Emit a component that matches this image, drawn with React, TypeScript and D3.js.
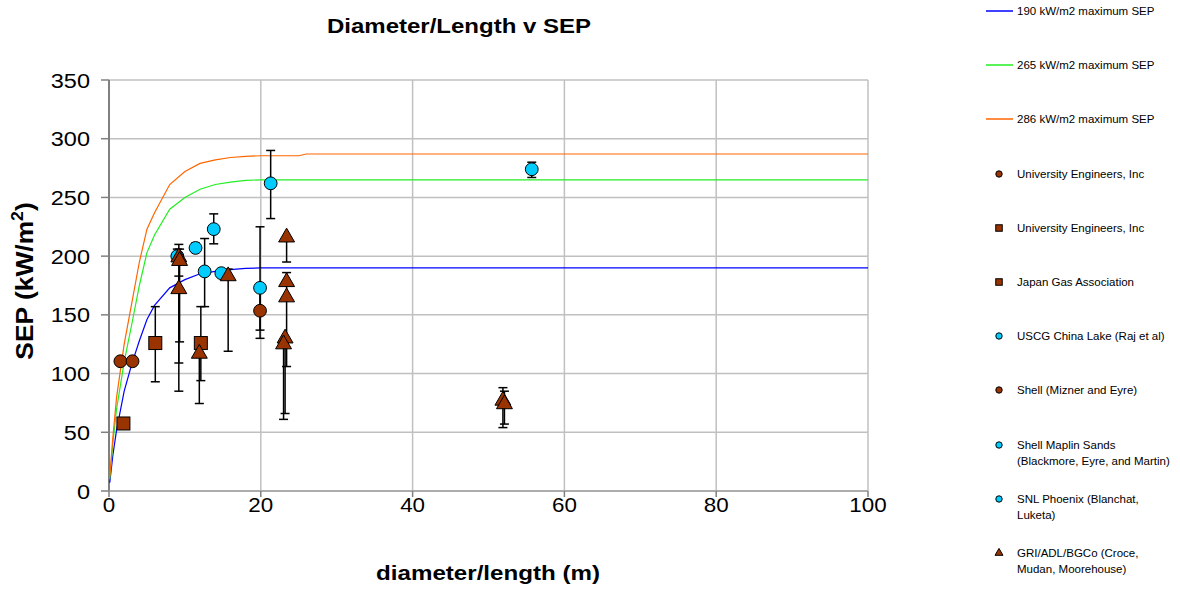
import React from "react";
import * as d3 from "d3";

// ---- Data ----
const curveX = [0.1, 0.5, 1, 2, 3, 4, 5, 6, 8, 10, 12, 14, 16, 18, 20, 25, 26, 100];
const sep190 = [7, 30, 52, 85, 108, 128, 146, 158, 173, 180, 185, 187, 188.5, 189.5, 190, 190, 190, 190];
const sep265 = [10, 40, 70, 110, 142, 175, 203, 218, 240, 250, 257, 261, 263, 264.5, 265, 265, 265, 265];
const sep286 = [12, 45, 80, 125, 160, 195, 223, 237, 261, 272, 279, 282, 284, 285, 285.5, 285.5, 287, 287];

const uniCircleX = [1.5, 3.1];
const uniCircleY = [110.5, 110.5];

const uniSquareX = [1.9];
const uniSquareY = [57.5];

const japanX = [6.1, 12.1];
const japanY = [126, 126];
const japanLo = [93, 94];
const japanHi = [157, 157];

const uscgX = [9.0, 11.4, 13.8];
const uscgY = [200, 207, 223];
const uscgLo = [200, 203.5, 210.5];
const uscgHi = [206, 211, 236];

const shellX = [19.9];
const shellY = [153.5];
const shellLo = [130];
const shellHi = [170];

const maplinX = [12.6, 14.8, 19.9];
const maplinY = [187, 185.5, 173];
const maplinLo = [157, 185.5, 137];
const maplinHi = [215, 185.5, 225];

const snlX = [21.3, 55.7];
const snlY = [262, 274];
const snlLo = [232, 267];
const snlHi = [290, 280];

const griX = [9.2, 9.3, 9.2, 11.9, 15.7, 23.4, 23.4, 23.4, 23.2, 23.0, 51.9, 52.1];
const griY = [199, 196, 172, 117, 183, 216, 178, 165, 130, 125, 77, 74];
const griLo = [85, 127, 109, 74.5, 119, 195, 106, 165, 66, 61, 54, 57];
const griHi = [210, 206, 183, 126, 189, 216, 186, 165, 130, 125, 88, 85];

const xTicks = [0, 20, 40, 60, 80, 100];
const yTicks = [0, 50, 100, 150, 200, 250, 300, 350];

const BROWN = "#993300";
const CYAN = "#00ccff";

type Pt = { x: number; y: number; lo?: number; hi?: number };
const zipPts = (xs: number[], ys: number[], lo?: number[], hi?: number[]): Pt[] =>
  xs.map((x, i) => ({ x, y: ys[i], lo: lo ? lo[i] : undefined, hi: hi ? hi[i] : undefined }));

const markerSeries = [
  { name: "University Engineers, Inc", shape: "circle", fill: BROWN, pts: zipPts(uniCircleX, uniCircleY) },
  { name: "University Engineers, Inc", shape: "square", fill: BROWN, pts: zipPts(uniSquareX, uniSquareY) },
  { name: "Japan Gas Association", shape: "square", fill: BROWN, pts: zipPts(japanX, japanY, japanLo, japanHi) },
  { name: "USCG China Lake (Raj et al)", shape: "circle", fill: CYAN, pts: zipPts(uscgX, uscgY, uscgLo, uscgHi) },
  { name: "Shell (Mizner and Eyre)", shape: "circle", fill: BROWN, pts: zipPts(shellX, shellY, shellLo, shellHi) },
  { name: "Shell Maplin Sands|(Blackmore, Eyre, and Martin)", shape: "circle", fill: CYAN, pts: zipPts(maplinX, maplinY, maplinLo, maplinHi) },
  { name: "SNL Phoenix (Blanchat,|Luketa)", shape: "circle", fill: CYAN, pts: zipPts(snlX, snlY, snlLo, snlHi) },
  { name: "GRI/ADL/BGCo (Croce,|Mudan, Moorehouse)", shape: "triangle", fill: BROWN, pts: zipPts(griX, griY, griLo, griHi) },
];

const lineSeries = [
  { name: "190 kW/m2 maximum SEP", color: "#0000ff", ys: sep190 },
  { name: "265 kW/m2 maximum SEP", color: "#22ee22", ys: sep265 },
  { name: "286 kW/m2 maximum SEP", color: "#ff6600", ys: sep286 },
];

const W = 1180, H = 589;
const L = 109, R = 868, T = 80, B = 491;

function Marker({ shape, fill, x, y, s }: { shape: string; fill: string; x: number; y: number; s: number }) {
  if (shape === "circle") return <circle cx={x} cy={y} r={6.4 * s} fill={fill} stroke="#000" strokeWidth={1} />;
  if (shape === "square")
    return <rect x={x - 6.5 * s} y={y - 6.5 * s} width={13 * s} height={13 * s} fill={fill} stroke="#000" strokeWidth={1} />;
  const p = d3.symbol().type(d3.symbolTriangle).size(110 * s * s)();
  return <path d={p || ""} transform={`translate(${x},${y})`} fill={fill} stroke="#000" strokeWidth={1} />;
}

export default function App() {
  const x = d3.scaleLinear().domain([0, 100]).range([L, R]);
  const y = d3.scaleLinear().domain([0, 350]).range([B, T]);
  const line = d3
    .line<number>()
    .x((_, i) => x(curveX[i]))
    .y((d) => y(d));

  const legendY = [11, 65, 119, 174, 228, 282, 336, 390, 445, 499, 553];
  const font = "Liberation Sans, Arial, sans-serif";

  return (
    <svg width={W} height={H} style={{ position: "absolute", left: 0, top: 0, background: "#fff" }} fontFamily={font}>
      {/* grid */}
      {yTicks.map((t) => (
        <line key={"gy" + t} x1={L} x2={R} y1={y(t)} y2={y(t)} stroke="#c0c0c0" strokeWidth={1.5} />
      ))}
      {xTicks.slice(1).map((t) => (
        <line key={"gx" + t} x1={x(t)} x2={x(t)} y1={T} y2={B} stroke="#c0c0c0" strokeWidth={1.5} />
      ))}
      {/* axes */}
      <line x1={L} x2={L} y1={T} y2={B} stroke="#808080" strokeWidth={2} />
      <line x1={L} x2={R} y1={B} y2={B} stroke="#a0a0a0" strokeWidth={1.5} />
      {yTicks.map((t) => (
        <g key={"yt" + t}>
          <line x1={L - 8} x2={L} y1={y(t)} y2={y(t)} stroke="#808080" strokeWidth={1.5} />
          <text transform={`translate(${L - 19},${y(t)}) scale(1.12,1)`} dy="0.36em" textAnchor="end" fontSize={21}>
            {t}
          </text>
        </g>
      ))}
      {xTicks.map((t) => (
        <g key={"xt" + t}>
          <line x1={x(t)} x2={x(t)} y1={B} y2={B + 6} stroke="#808080" strokeWidth={1.5} />
          <text transform={`translate(${x(t)},${B + 21}) scale(1.12,1)`} textAnchor="middle" fontSize={20}>
            {t}
          </text>
        </g>
      ))}
      {/* curves */}
      {lineSeries.map((s) => (
        <path key={s.name} d={line(s.ys) || ""} fill="none" stroke={s.color} strokeWidth={1.2} />
      ))}
      {/* error bars */}
      {markerSeries.map((s, si) =>
        s.pts.map((p, i) =>
          p.lo !== undefined && p.hi !== undefined && (p.lo !== p.y || p.hi !== p.y) ? (
            <g key={`e${si}-${i}`} stroke="#000" strokeWidth={1.5}>
              <line x1={x(p.x)} x2={x(p.x)} y1={y(p.lo)} y2={y(p.hi)} />
              {p.lo !== p.y && <line x1={x(p.x) - 4.5} x2={x(p.x) + 4.5} y1={y(p.lo)} y2={y(p.lo)} />}
              {p.hi !== p.y && <line x1={x(p.x) - 4.5} x2={x(p.x) + 4.5} y1={y(p.hi)} y2={y(p.hi)} />}
            </g>
          ) : null
        )
      )}
      {/* markers */}
      {markerSeries.map((s, si) =>
        s.pts.map((p, i) => <Marker key={`m${si}-${i}`} shape={s.shape} fill={s.fill} x={x(p.x)} y={y(p.y)} s={1} />)
      )}
      {/* titles */}
      <text transform="translate(459,33) scale(1.2,1)" textAnchor="middle" fontSize={20} fontWeight="bold">
        Diameter/Length v SEP
      </text>
      <text transform="translate(488,580) scale(1.15,1)" textAnchor="middle" fontSize={21} fontWeight="bold">
        diameter/length (m)
      </text>
      <text transform={`translate(33,281) rotate(-90) scale(1.1,1)`} textAnchor="middle" fontSize={24} fontWeight="bold">
        SEP (kW/m<tspan dy="-10" fontSize={16}>2</tspan>
        <tspan dy="10">)</tspan>
      </text>
      {/* legend */}
      {lineSeries.map((s, i) => (
        <g key={"ll" + i}>
          <line x1={986} x2={1013} y1={legendY[i]} y2={legendY[i]} stroke={s.color} strokeWidth={1.5} />
          <text x={1017} y={legendY[i]} dy="0.35em" fontSize={11.5}>
            {s.name}
          </text>
        </g>
      ))}
      {markerSeries.map((s, i) => {
        const ly = legendY[i + 3];
        const lines = s.name.split("|");
        return (
          <g key={"lm" + i}>
            <Marker shape={s.shape} fill={s.fill} x={999} y={ly} s={0.5} />
            {lines.map((t, k) => (
              <text key={k} x={1017} y={ly + k * 16} dy="0.35em" fontSize={11.5}>
                {t}
              </text>
            ))}
          </g>
        );
      })}
    </svg>
  );
}
